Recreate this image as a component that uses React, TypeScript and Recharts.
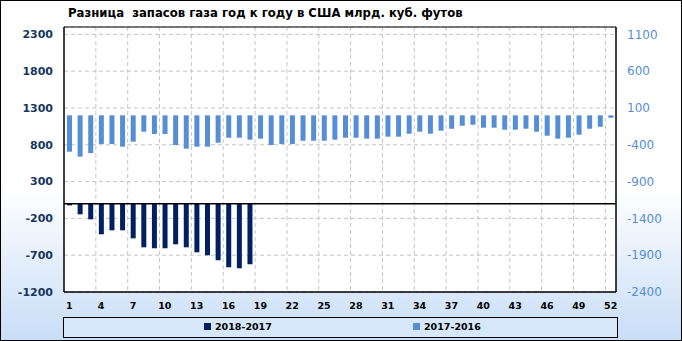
import React from 'react'
import { BarChart, Bar, XAxis, YAxis, CartesianGrid, ReferenceLine, ReferenceArea } from 'recharts'

const weeks = [
  '1', '2', '3', '4', '5', '6', '7', '8', '9', '10',
  '11', '12', '13', '14', '15', '16', '17', '18', '19', '20',
  '21', '22', '23', '24', '25', '26', '27', '28', '29', '30',
  '31', '32', '33', '34', '35', '36', '37', '38', '39', '40',
  '41', '42', '43', '44', '45', '46', '47', '48', '49', '50',
  '51', '52',
]

// 2018 vs 2017 (left axis), only first 18 weeks reported
const diff2018 = [
  -23, -145, -213, -416, -362, -362, -471, -593, -606, -606,
  -552, -593, -661, -701, -769, -864, -878, -823,
]

// 2017 vs 2016 (right axis)
const diff2017 = [
  -494, -561, -512, -389, -389, -426, -358, -222, -254, -254,
  -403, -453, -426, -426, -372, -304, -304, -331, -317, -403,
  -389, -389, -345, -345, -345, -331, -304, -304, -317, -317,
  -290, -290, -250, -222, -250, -209, -182, -141, -127, -168,
  -168, -195, -195, -182, -222, -277, -317, -304, -263, -182,
  -155, -33,
]

const leftTicks = [-1200, -700, -200, 300, 800, 1300, 1800, 2300]
const rightTicks = [-2400, -1900, -1400, -900, -400, 100, 600, 1100]

const data = weeks.map((w, i) => ({
  week: w,
  y2018: i < diff2018.length ? diff2018[i] : null,
  y2017: diff2017[i],
}))

const DARK = '#002060'
const LIGHT = '#558ED5'
const FONT = '"DejaVu Sans", Verdana, sans-serif'

export default function App() {
  return (
    <div style={{ position: 'relative', width: 682, height: 341, fontFamily: FONT, background: 'linear-gradient(to bottom, #ffffff 0%, #ffffff 55%, #c8ddf7 100%)' }}>
      <style>{`body{margin:0}`}</style>

      <div style={{ position: 'absolute', left: 68, top: 7, fontSize: 11.7, lineHeight: '12px', fontWeight: 'bold', color: '#000', whiteSpace: 'pre' }}>
        {'Разница  запасов газа год к году в США млрд. куб. футов'}
      </div>

      <div style={{ position: 'absolute', left: 0, top: 0 }}>
        <BarChart width={682} height={341} data={data} margin={{ top: 27, right: 0, left: 0, bottom: 29 }}>
          <CartesianGrid
            xAxisId="main"
            yAxisId="left"
            fill="#ffffff"
            stroke="#c4c4c4"
            strokeDasharray="4 3"
            verticalCoordinatesGenerator={({ offset }: any) =>
              weeks.map((_, i) => i).filter((i) => i > 0 && i % 3 === 0).map((i) => offset.left + (offset.width * i) / weeks.length)
            }
          />
          <XAxis
            xAxisId="main"
            dataKey="week"
            interval={2}
            height={20}
            axisLine={{ stroke: '#000' }}
            tickLine={false}
            tickMargin={4}
            tick={{ fill: '#000', fontSize: 9.5, fontWeight: 'bold', fontFamily: FONT }}
          />
          <XAxis xAxisId="over" dataKey="week" hide />
          <YAxis
            yAxisId="left"
            orientation="left"
            width={64}
            domain={[-1200, 2400]}
            ticks={leftTicks}
            axisLine={{ stroke: '#000' }}
            tickLine={false}
            tickMargin={5}
            tick={{ fill: '#17375E', fontSize: 11, fontWeight: 'bold', fontFamily: FONT }}
          />
          <YAxis
            yAxisId="right"
            orientation="right"
            width={66}
            domain={[-2400, 1200]}
            ticks={rightTicks}
            axisLine={{ stroke: '#000' }}
            tickLine={false}
            tickMargin={5}
            tick={{ fill: LIGHT, fontSize: 12, fontFamily: FONT }}
          />
          <ReferenceArea xAxisId="main" yAxisId="left" y1={-1200} y2={2400} fill="none" stroke="#000" strokeWidth={1} />
          <ReferenceLine xAxisId="main" yAxisId="left" y={0} stroke="#000" strokeWidth={1.5} />
          <Bar xAxisId="main" yAxisId="left" dataKey="y2018" name="2018-2017" fill={DARK} barSize={5} isAnimationActive={false} />
          <Bar xAxisId="over" yAxisId="right" dataKey="y2017" name="2017-2016" fill={LIGHT} barSize={5} isAnimationActive={false} />
        </BarChart>
      </div>

      <div style={{ position: 'absolute', left: 63, top: 317, width: 553, height: 19, border: '1px solid #000', background: '#d6e7fa', fontSize: 9.5, fontWeight: 'bold', color: '#000' }}>
        <div style={{ position: 'absolute', left: 140, top: 5, width: 7, height: 7, background: DARK }} />
        <div style={{ position: 'absolute', left: 151, top: 3, lineHeight: '12px' }}>2018-2017</div>
        <div style={{ position: 'absolute', left: 349, top: 5, width: 7, height: 7, background: LIGHT }} />
        <div style={{ position: 'absolute', left: 360, top: 3, lineHeight: '12px' }}>2017-2016</div>
      </div>

      <div style={{ position: 'absolute', left: 0, top: 0, width: 682, height: 341, boxSizing: 'border-box', border: '1px solid #000', pointerEvents: 'none' }} />
    </div>
  )
}
